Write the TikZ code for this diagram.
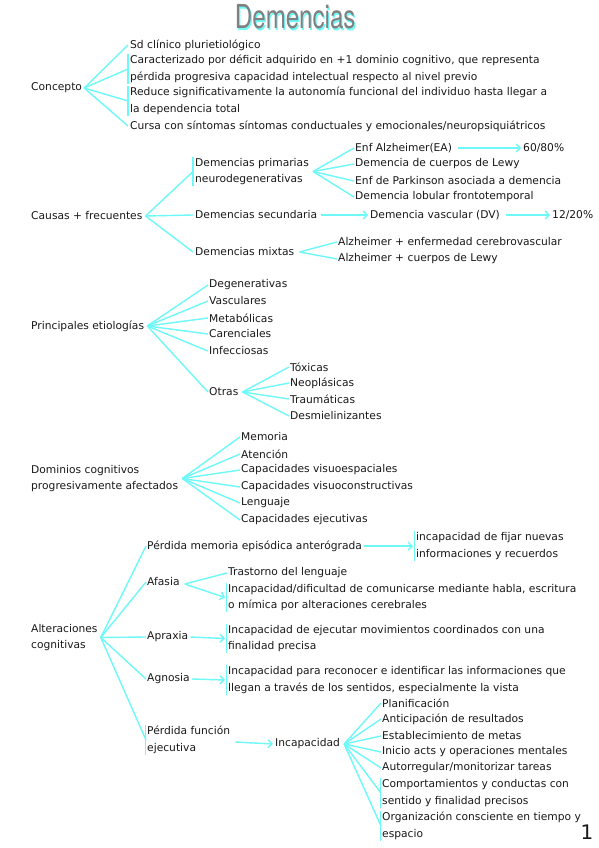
\documentclass[tikz,border=0pt]{standalone}
\usepackage{fontspec}
\setmainfont{DejaVu Sans}
\newfontfamily\titlef{TeX Gyre Heros}
\usetikzlibrary{arrows.meta}
\definecolor{cy}{RGB}{110,248,248}
\definecolor{ink}{RGB}{25,25,25}
\begin{document}
\begin{tikzpicture}[x=1pt,y=-1pt,
 txt/.style={anchor=west,inner sep=0pt,align=left,font=\fontsize{10.7}{16.4}\selectfont,text=ink},
 ln/.style={draw=cy,line width=1.4pt},
 barline/.style={draw=cy,line width=1.9pt},
 arr/.style={ln,-{Straight Barb[length=4pt,width=8pt]}}]
\useasboundingbox (0,0) rectangle (599,848);
\fill[white] (0,0) rectangle (599,848);

% title
\node[inner sep=0pt,text=cy] (tsh) at (296.4,18.4) {\titlef\fontsize{33}{33}\selectfont\scalebox{0.73}[1]{Demencias}};
\node[inner sep=0pt,text=black!50] (title) at (295.2,17.2) {\titlef\fontsize{33}{33}\selectfont\scalebox{0.73}[1]{Demencias}};

% Concepto
\node[txt] (c0) at (31,88) {Concepto};
\node[txt] (c1) at (130,45) {Sd clínico plurietiológico};
\node[txt] (c2) at (130,69) {Caracterizado por déficit adquirido en +1 dominio cognitivo, que representa\\pérdida progresiva capacidad intelectual respecto al nivel previo};
\node[txt] (c3) at (130,101) {Reduce significativamente la autonomía funcional del individuo hasta llegar a\\la dependencia total};
\node[txt] (c4) at (130,126) {Cursa con síntomas síntomas conductuales y emocionales/neuropsiquiátricos};
\foreach \n in {c1,c2,c3,c4} \draw[ln] ([xshift=2pt]c0.east) -- ([xshift=-2pt]\n.west);
\foreach \n in {c2,c3} \draw[barline] ([xshift=-2pt,yshift=1pt]\n.north west) -- ([xshift=-2pt,yshift=-1pt]\n.south west);

% Causas
\node[txt] (k0) at (31,216) {Causas + frecuentes};
\node[txt] (k1) at (195,171.5) {Demencias primarias\\neurodegenerativas};
\node[txt] (k2) at (195,215) {Demencias secundaria};
\node[txt] (k3) at (195,252) {Demencias mixtas};
\node[txt] (a1) at (355,148) {Enf Alzheimer(EA)};
\node[txt] (a2) at (355,164) {Demencia de cuerpos de Lewy};
\node[txt] (a3) at (355,181) {Enf de Parkinson asociada a demencia};
\node[txt] (a4) at (355,197) {Demencia lobular frontotemporal};
\node[txt] (b1) at (523,148) {60/80\%};
\node[txt] (k2b) at (370,215) {Demencia vascular (DV)};
\node[txt] (b2) at (552,215) {12/20\%};
\node[txt] (m1) at (338,242) {Alzheimer + enfermedad cerebrovascular};
\node[txt] (m2) at (338,259) {Alzheimer + cuerpos de Lewy};
\foreach \n in {k1,k2,k3} \draw[ln] ([xshift=3pt]k0.east) -- ([xshift=-2pt]\n.west);
\draw[barline] ([xshift=-2pt,yshift=1pt]k1.north west) -- ([xshift=-2pt,yshift=-1pt]k1.south west);
\foreach \n in {a1,a2,a3,a4} \draw[ln] ([xshift=4pt]k1.east) -- ([xshift=-1pt]\n.west);
\draw[arr] ([xshift=6pt]a1.east) -- ([xshift=-2pt]b1.west);
\draw[arr] ([xshift=4pt]k2.east) -- ([xshift=-2pt]k2b.west);
\draw[arr] ([xshift=6pt]k2b.east) -- ([xshift=-2pt]b2.west);
\foreach \n in {m1,m2} \draw[ln] ([xshift=5pt]k3.east) -- ([xshift=-1pt]\n.west);

% Etiologias
\node[txt] (e0) at (31,326) {Principales etiologías};
\node[txt] (e1) at (209,285) {Degenerativas};
\node[txt] (e2) at (209,301) {Vasculares};
\node[txt] (e3) at (209,318) {Metabólicas};
\node[txt] (e4) at (209,334) {Carenciales};
\node[txt] (e5) at (209,351) {Infecciosas};
\node[txt] (e6) at (209,392) {Otras};
\node[txt] (o1) at (290,367) {Tóxicas};
\node[txt] (o2) at (290,383) {Neoplásicas};
\node[txt] (o3) at (290,399) {Traumáticas};
\node[txt] (o4) at (290,416) {Desmielinizantes};
\foreach \n in {e1,e2,e3,e4,e5,e6} \draw[ln] ([xshift=3pt]e0.east) -- ([xshift=-1pt]\n.west);
\foreach \n in {o1,o2,o3,o4} \draw[ln] ([xshift=4pt]e6.east) -- ([xshift=-1pt]\n.west);

% Dominios
\node[txt] (d0) at (31,478.5) {Dominios cognitivos\\progresivamente afectados};
\node[txt] (d1) at (241,437) {Memoria};
\node[txt] (d2) at (241,454) {Atención};
\node[txt] (d3) at (241,470) {Capacidades visuoespaciales};
\node[txt] (d4) at (241,487) {Capacidades visuoconstructivas};
\node[txt] (d5) at (241,503) {Lenguaje};
\node[txt] (d6) at (241,520) {Capacidades ejecutivas};
\foreach \n in {d1,d2,d3,d4,d5,d6} \draw[ln] ([xshift=4pt]d0.east) -- ([xshift=-1pt]\n.west);

% Alteraciones
\node[txt] (g0) at (31,637.5) {Alteraciones\\cognitivas};
\node[txt] (g1) at (147,546) {Pérdida memoria episódica anterógrada};
\node[txt] (g2) at (147,582) {Afasia};
\node[txt] (g3) at (147,637) {Apraxia};
\node[txt] (g4) at (147,679) {Agnosia};
\node[txt] (g5) at (147,740) {Pérdida función\\ejecutiva};
\foreach \n in {g1,g2,g3,g4,g5} \draw[ln] ([xshift=3pt]g0.east) -- ([xshift=-1pt]\n.west);
\draw[barline] ([xshift=-1.5pt,yshift=1pt]g5.north west) -- ([xshift=-1.5pt,yshift=-1pt]g5.south west);

\node[txt] (h1) at (416,546) {incapacidad de fijar nuevas\\informaciones y recuerdos};
\draw[arr] ([xshift=2pt]g1.east) -- ([xshift=-3pt]h1.west);
\draw[barline] ([xshift=-1.5pt,yshift=1pt]h1.north west) -- ([xshift=-1.5pt,yshift=-1pt]h1.south west);

\node[txt] (t1) at (228,573) {Trastorno del lenguaje};
\node[txt] (t2) at (228,597.5) {Incapacidad/dificultad de comunicarse mediante habla, escritura\\o mímica por alteraciones cerebrales};
\draw[ln] ([xshift=5pt,yshift=-2pt]g2.east) -- ([xshift=-1pt]t1.west);
\draw[arr] ([xshift=5pt,yshift=-2pt]g2.east) -- ([xshift=-3pt]t2.west);
\draw[barline] ([xshift=-1.5pt,yshift=1pt]t2.north west) -- ([xshift=-1.5pt,yshift=-1pt]t2.south west);

\node[txt] (p1) at (228,638.5) {Incapacidad de ejecutar movimientos coordinados con una\\finalidad precisa};
\draw[arr] ([xshift=2pt]g3.east) -- ([xshift=-3pt]p1.west);
\draw[barline] ([xshift=-1.5pt,yshift=1pt]p1.north west) -- ([xshift=-1.5pt,yshift=-1pt]p1.south west);

\node[txt] (q1) at (228,680) {Incapacidad para reconocer e identificar las informaciones que\\llegan a través de los sentidos, especialmente la vista};
\draw[arr] ([xshift=2pt]g4.east) -- ([xshift=-3pt]q1.west);
\draw[barline] ([xshift=-1.5pt,yshift=1pt]q1.north west) -- ([xshift=-1.5pt,yshift=-1pt]q1.south west);

\node[txt] (i0) at (275,744) {Incapacidad};
\draw[arr] ([xshift=5pt,yshift=-2pt]g5.east) -- ([xshift=-2pt]i0.west);
\node[txt] (r1) at (382,703) {Planificación};
\node[txt] (r2) at (382,719) {Anticipación de resultados};
\node[txt] (r3) at (382,736) {Establecimiento de metas};
\node[txt] (r4) at (382,752) {Inicio acts y operaciones mentales};
\node[txt] (r5) at (382,768) {Autorregular/monitorizar tareas};
\node[txt] (r6) at (382,793) {Comportamientos y conductas con\\sentido y finalidad precisos};
\node[txt] (r7) at (382,826) {Organización consciente en tiempo y\\espacio};
\foreach \n in {r1,r2,r3,r4,r5,r6,r7} \draw[ln] ([xshift=4pt]i0.east) -- ([xshift=-1pt]\n.west);
\foreach \n in {r6,r7} \draw[barline] ([xshift=-1.5pt,yshift=1pt]\n.north west) -- ([xshift=-1.5pt,yshift=-1pt]\n.south west);

\node[inner sep=0pt,text=ink,font=\fontsize{20}{20}\selectfont] (pg) at (587,832) {1};
\end{tikzpicture}
\end{document}
